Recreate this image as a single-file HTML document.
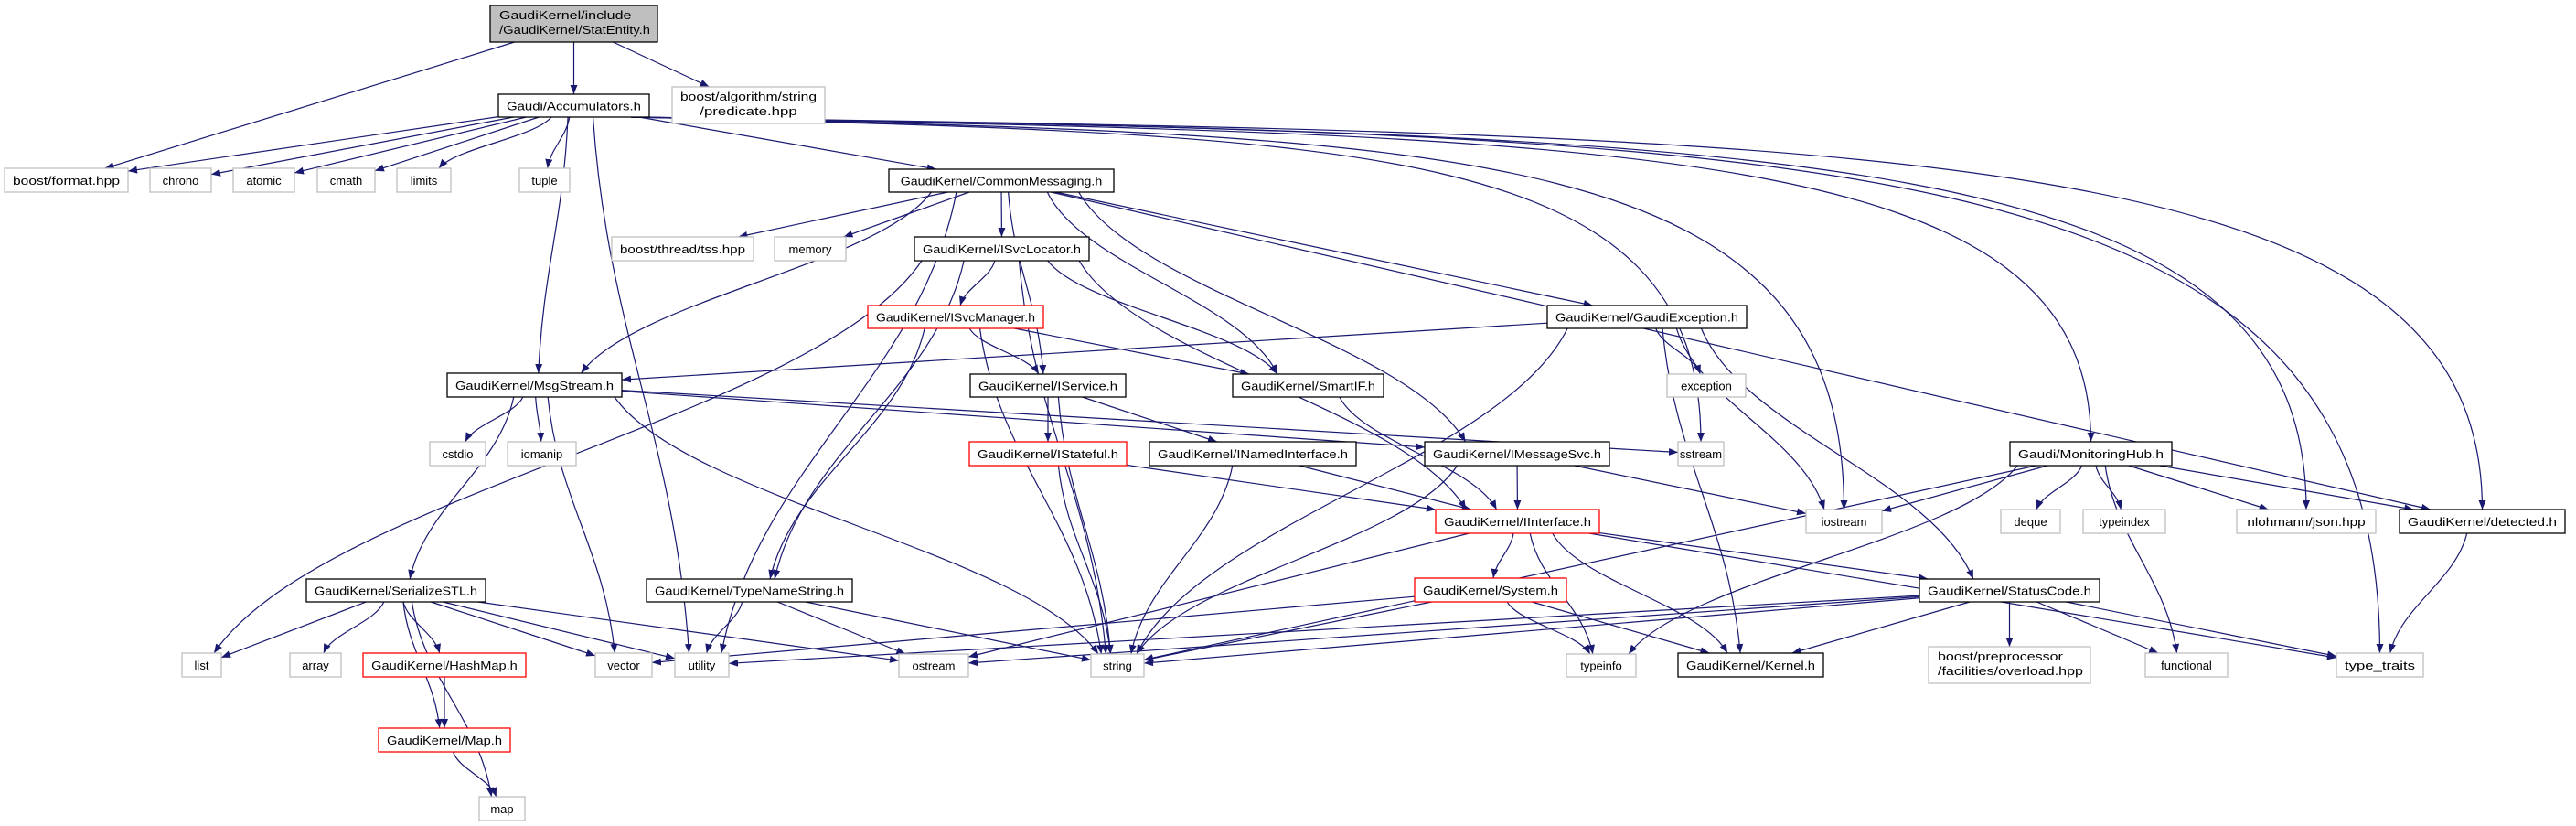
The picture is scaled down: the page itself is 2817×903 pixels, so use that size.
<!DOCTYPE html>
<html><head><meta charset="utf-8">
<style>
html,body{margin:0;padding:0;background:#fff;}
svg{display:block;}
text{font-family:"Liberation Sans","DejaVu Sans",sans-serif;font-size:13px;fill:#000;}
</style></head>
<body>
<svg id="g" width="2817" height="903" viewBox="0 0 2817 903" xmlns="http://www.w3.org/2000/svg">
<defs>
<marker id="ah" viewBox="0 0 10 10" refX="10" refY="5" markerWidth="10" markerHeight="10" markerUnits="userSpaceOnUse" orient="auto">
<path d="M0,1 L10,5 L0,9 z" fill="#191970"/>
</marker>
</defs>
<g id="edges" fill="none" stroke="#191970" stroke-width="1.2"></g>
<g id="nodes"></g>
</svg>
<script>
var N={
SE:[536,719,6,46,'s',['GaudiKernel/include','/GaudiKernel/StatEntity.h']],
AC:[545,710,103,128,'b',['Gaudi/Accumulators.h']],
PR:[735,902,95,135,'g',['boost/algorithm/string','/predicate.hpp']],
FM:[5,140,184,210,'g',['boost/format.hpp']],
CH:[164,231,184,210,'g',['chrono']],
AT:[255,322,184,210,'g',['atomic']],
CM:[347,410,184,210,'g',['cmath']],
LI:[434,493,184,210,'g',['limits']],
TU:[568,623,184,210,'g',['tuple']],
CO:[972,1218,185,210,'b',['GaudiKernel/CommonMessaging.h']],
TS:[669,824,259,285,'g',['boost/thread/tss.hpp']],
ME:[847,925,259,285,'g',['memory']],
SL:[1000,1191,259,285,'b',['GaudiKernel/ISvcLocator.h']],
SM:[949,1141,334,359,'r',['GaudiKernel/ISvcManager.h']],
GE:[1692,1910,334,359,'b',['GaudiKernel/GaudiException.h']],
MS:[489,680,408,434,'b',['GaudiKernel/MsgStream.h']],
IS:[1061,1231,409,434,'b',['GaudiKernel/IService.h']],
SI:[1348,1513,409,434,'b',['GaudiKernel/SmartIF.h']],
EX:[1823,1909,409,434,'g',['exception']],
CD:[470,531,483,509,'g',['cstdio']],
IO:[555,630,483,509,'g',['iomanip']],
ST:[1060,1232,483,509,'r',['GaudiKernel/IStateful.h']],
NI:[1257,1483,483,509,'b',['GaudiKernel/INamedInterface.h']],
MV:[1558,1760,483,509,'b',['GaudiKernel/IMessageSvc.h']],
SS:[1835,1885,483,509,'g',['sstream']],
MH:[2198,2375,483,509,'b',['Gaudi/MonitoringHub.h']],
II:[1570,1749,557,583,'r',['GaudiKernel/IInterface.h']],
IOS:[1975,2058,557,583,'g',['iostream']],
DQ:[2188,2253,557,583,'g',['deque']],
TI:[2278,2368,557,583,'g',['typeindex']],
NJ:[2446,2598,557,583,'g',['nlohmann/json.hpp']],
DE:[2624,2805,557,583,'b',['GaudiKernel/detected.h']],
SE2:[335,531,633,658,'b',['GaudiKernel/SerializeSTL.h']],
TN:[707,932,633,658,'b',['GaudiKernel/TypeNameString.h']],
SY:[1547,1713,632,658,'r',['GaudiKernel/System.h']],
SC:[2099,2296,633,658,'b',['GaudiKernel/StatusCode.h']],
LS:[199,242,714,740,'g',['list']],
AR:[317,373,714,740,'g',['array']],
HM:[397,575,714,740,'r',['GaudiKernel/HashMap.h']],
VE:[651,713,714,740,'g',['vector']],
UT:[738,797,714,740,'g',['utility']],
OS:[983,1059,715,740,'g',['ostream']],
STR:[1193,1251,715,740,'g',['string']],
TY:[1713,1789,715,740,'g',['typeinfo']],
KE:[1835,1994,714,740,'b',['GaudiKernel/Kernel.h']],
OV:[2109,2286,707,747,'g',['boost/preprocessor','/facilities/overload.hpp']],
FU:[2346,2436,714,740,'g',['functional']],
TT:[2555,2650,714,740,'g',['type_traits']],
MP:[414,558,796,822,'r',['GaudiKernel/Map.h']],
MA:[524,574,871,897,'g',['map']]
};
var E=[
['SE','FM'],['SE','AC'],['SE','PR'],
['AC','FM'],['AC','CH'],['AC','AT'],['AC','CM'],['AC','LI'],['AC','TU'],['AC','MS'],['AC','UT'],['AC','CO'],
['AC','SS',1],['AC','IOS',1],['AC','MH',1],['AC','NJ',1],['AC','DE',1],['AC','TT',1],
['CO','TS'],['CO','ME'],['CO','SL'],['CO','IS'],['CO','SI'],['CO','MV'],['CO','GE'],['CO','DE'],['CO','MS'],['CO','UT'],
['SL','LS'],['SL','TN'],['SL','STR'],['SL','SM'],['SL','SI'],['SL','II'],
['SM','TN'],['SM','STR'],['SM','IS'],['SM','SI'],
['GE','MS'],['GE','EX'],['GE','STR'],['GE','IOS'],['GE','SC'],['GE','KE'],
['MS','CD'],['MS','IO'],['MS','SE2'],['MS','VE'],['MS','STR'],['MS','SS'],['MS','MV'],
['IS','ST'],['IS','NI'],['IS','STR'],
['SI','II'],['ST','II'],['ST','STR'],['NI','II'],['NI','STR'],
['MV','II'],['MV','IOS'],['MV','STR'],
['II','SY'],['II','TY'],['II','KE'],['II','OS'],['II','SC'],['II','TT'],
['SY','STR'],['SY','TY'],['SY','KE'],['SY','VE'],
['SC','UT'],['SC','OS'],['SC','KE'],['SC','OV'],['SC','FU'],['SC','TT'],['SC','STR'],
['MH','IOS'],['MH','DQ'],['MH','TI'],['MH','FU'],['MH','NJ'],['MH','DE'],['MH','STR'],['MH','TY'],
['DE','TT'],
['SE2','LS'],['SE2','AR'],['SE2','HM'],['SE2','MP'],['SE2','MA'],['SE2','VE'],['SE2','UT'],['SE2','OS'],
['HM','MP'],['MP','MA'],
['TN','UT'],['TN','STR'],['TN','OS']
];
var NS='http://www.w3.org/2000/svg';
function ctr(n){return [(n[0]+n[1])/2,(n[2]+n[3])/2];}
function clamp(v,a,b){return Math.max(a,Math.min(b,v));}
function bnd(n,dx,dy){var hw=(n[1]-n[0])/2,hh=(n[3]-n[2])/2,c=ctr(n);
 var t=Math.min(dx?hw/Math.abs(dx):1e9,dy?hh/Math.abs(dy):1e9);return [c[0]+dx*t,c[1]+dy*t];}
var eg=document.getElementById('edges');
E.forEach(function(e){
 var a=N[e[0]],b=N[e[1]],ca=ctr(a),cb=ctr(b),dx=cb[0]-ca[0],dy=cb[1]-ca[1];
 var p=document.createElementNS(NS,'path'),d;
 if(e[2]){
  var s=[a[1]-20,a[3]],t=[cb[0],b[2]];
  d='M'+s[0]+','+s[1]+' C'+(s[0]+(t[0]-s[0])*0.7)+','+(s[1]+20)+' '+t[0]+','+(s[1]+30)+' '+t[0]+','+t[1];
 } else if(b[2]-a[3]>30){
  var sx=clamp(ca[0]+dx*0.15,a[0]+8,a[1]-8),sy=a[3];
  var tx=clamp(cb[0]-dx*0.1,b[0]+8,b[1]-8),ty=b[2];
  var h=ty-sy;
  var ratio=Math.abs(tx-sx)/h;
  if(ratio>2.5){
   var s2=bnd(a,dx,dy),t2=bnd(b,-dx,-dy);
   d='M'+s2[0]+','+s2[1]+' L'+t2[0]+','+t2[1];
  } else {
   d='M'+sx+','+sy+' C'+(sx+(tx-sx)*0.15)+','+(sy+h*0.4)+' '+(tx-(tx-sx)*0.15)+','+(ty-h*0.4)+' '+tx+','+ty;
  }
 } else {
  var s=bnd(a,dx,dy),t=bnd(b,-dx,-dy);
  d='M'+s[0]+','+s[1]+' L'+t[0]+','+t[1];
 }
 p.setAttribute('d',d);p.setAttribute('marker-end','url(#ah)');eg.appendChild(p);
});
var ng=document.getElementById('nodes');
for(var k in N){var n=N[k];
 var r=document.createElementNS(NS,'rect');
 r.setAttribute('x',n[0]);r.setAttribute('y',n[2]);r.setAttribute('width',n[1]-n[0]);r.setAttribute('height',n[3]-n[2]);
 var f='#fff',st='#000';
 if(n[4]=='g')st='#bfbfbf';if(n[4]=='r')st='#ff0000';if(n[4]=='s'){f='#bfbfbf';}
 r.setAttribute('fill',f);r.setAttribute('stroke',st);r.setAttribute('stroke-width','1.3');ng.appendChild(r);
 var lines=n[5],h=n[3]-n[2];
 for(var i=0;i<lines.length;i++){
  var t=document.createElementNS(NS,'text');
  var y=lines.length==1?(n[2]+h/2+5):(n[2]+15+i*16);
  if(lines.length==1){t.setAttribute('x',(n[0]+n[1])/2);t.setAttribute('text-anchor','middle');}
  else if(k=='SE'||k=='OV'){t.setAttribute('x',n[0]+10);}
  else {t.setAttribute('x',(n[0]+n[1])/2);t.setAttribute('text-anchor','middle');}
  t.setAttribute('y',y);
  var w=n[1]-n[0]-18;
  if(lines[i].length>10){t.setAttribute('textLength',Math.min(w,lines[i].length*7.6));t.setAttribute('lengthAdjust','spacingAndGlyphs');}
  t.textContent=lines[i];ng.appendChild(t);
 }
}
</script>
</body></html>
